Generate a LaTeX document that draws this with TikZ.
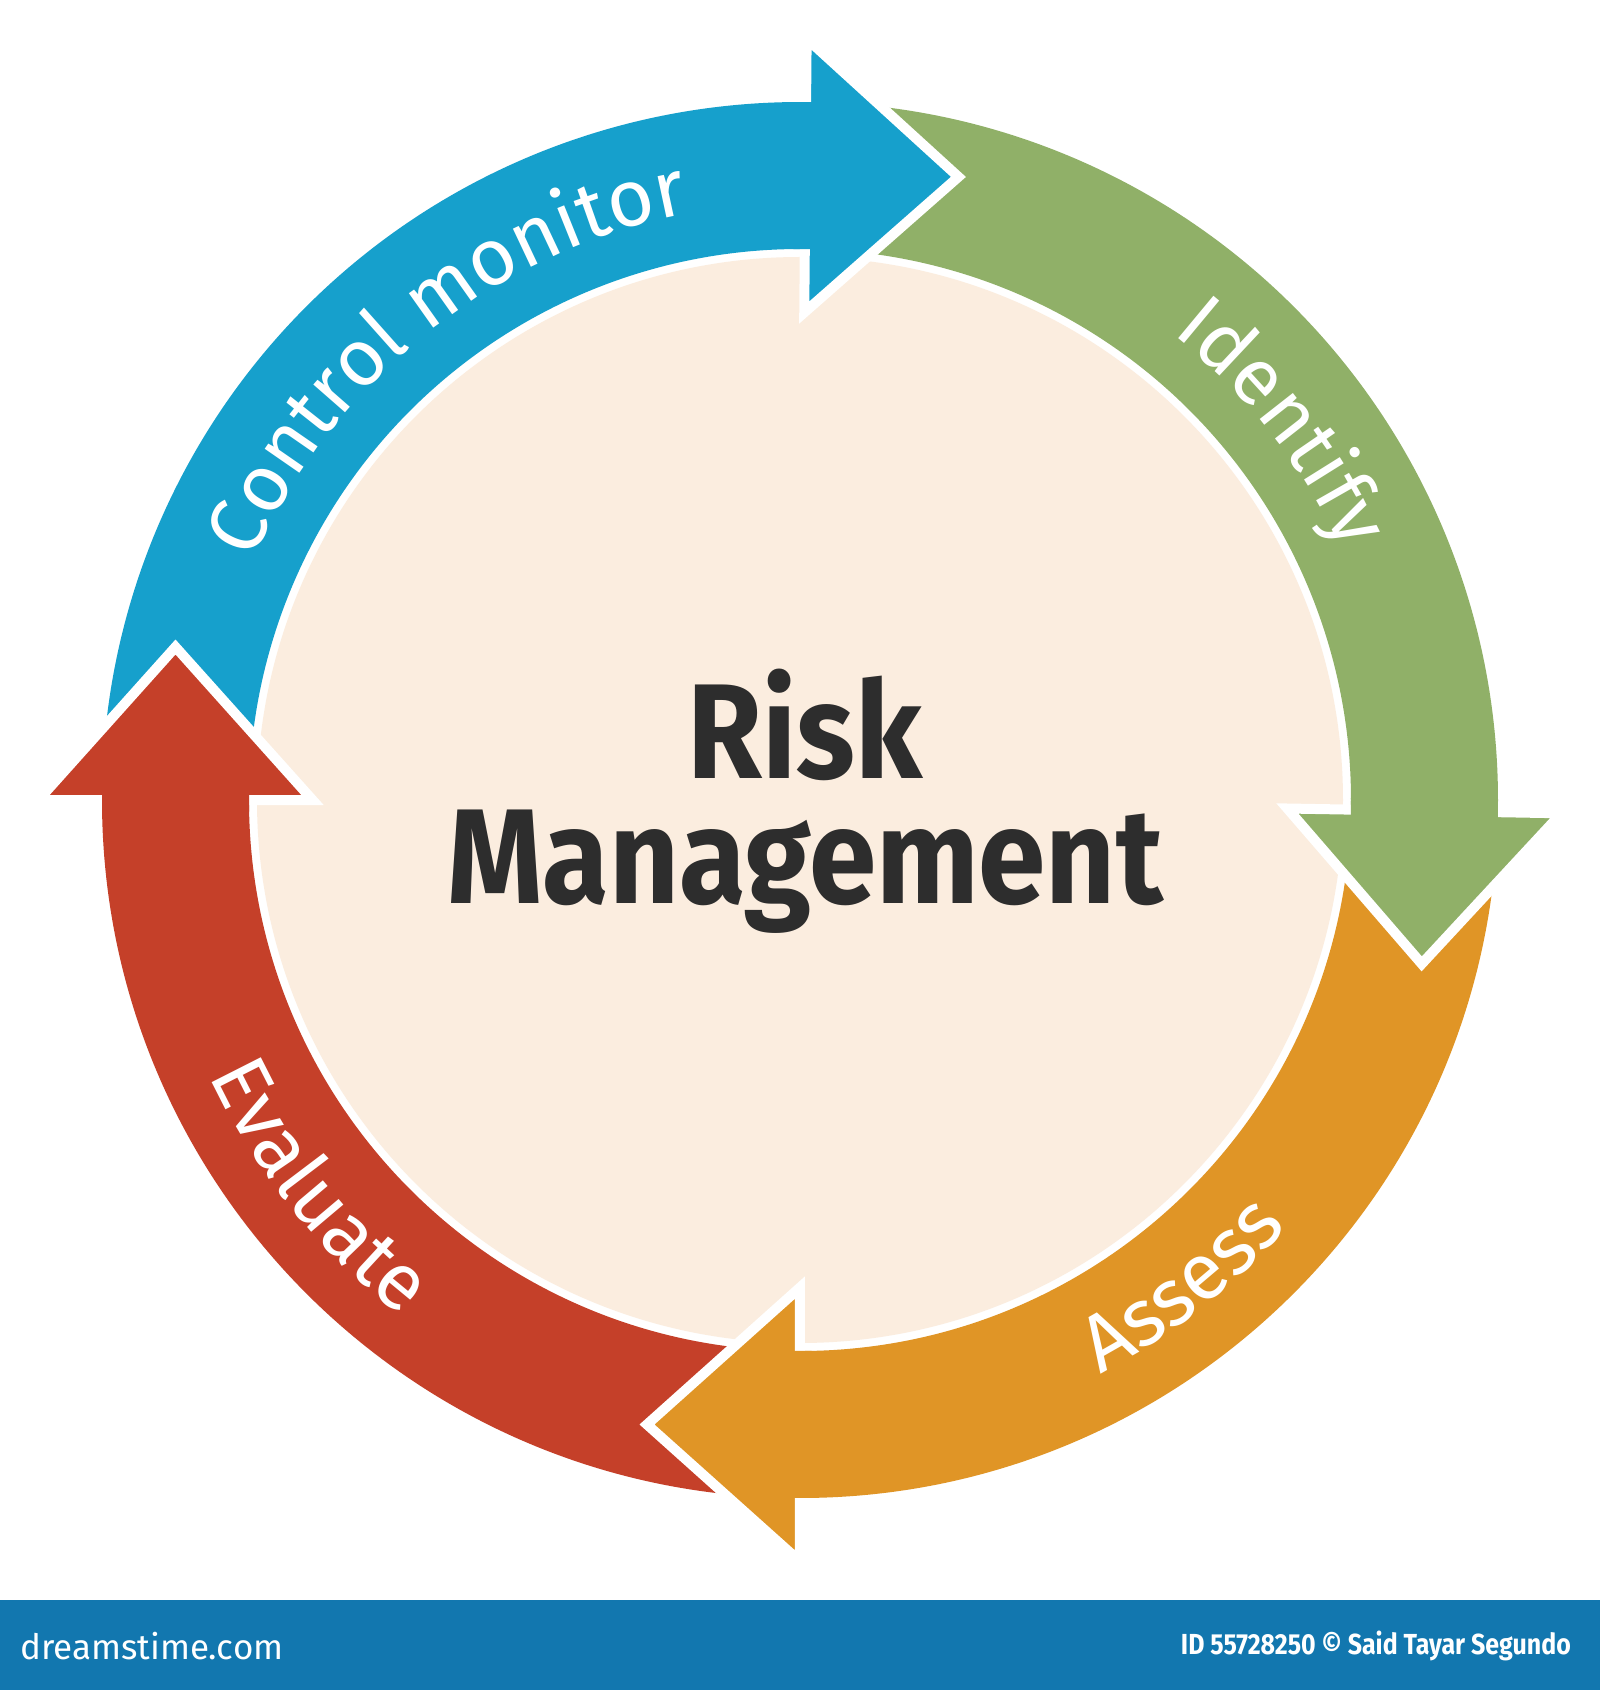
\documentclass[tikz,border=0pt]{standalone}
\usepackage{fontspec}
\setmainfont{Fira Sans}
\usetikzlibrary{decorations.text}
\definecolor{cblue}{RGB}{22,160,204}
\definecolor{cgreen}{RGB}{144,176,104}
\definecolor{corange}{RGB}{224,149,38}
\definecolor{cred}{RGB}{197,64,41}
\definecolor{cbeige}{RGB}{251,237,223}
\definecolor{cbanner}{RGB}{18,119,175}
\definecolor{ctitle}{RGB}{45,45,45}
\newcommand\lblfont{\fontsize{80}{96}\selectfont}
% annular sector of the ring between two angles
\newcommand\ringpart[3]{\fill[#1] (#2:698) arc[start angle=#2, end angle=#3, radius=698] -- (#3:551) arc[start angle=#3, end angle=#2, radius=551] -- cycle;}
% arrow head, canonical at the top pointing right, rotated by #2
\newcommand\arrowhead[2]{\filldraw[fill=#1, draw=white, line width=10pt, line join=miter, rotate=#2] (0,761.5) -- (153,624.5) -- (0,487.5) -- cycle;}
\tikzset{
  ringlabel/.style={decorate, decoration={text along path, text align=center, text color=white, text={|\lblfont|#1}}},
  titletext/.style={font=\fontsize{135}{135}\selectfont\bfseries, text=ctitle, anchor=base, inner sep=0pt},
  bannertext/.style={text=white, inner sep=0pt}
}
\begin{document}
\begin{tikzpicture}[x=1pt,y=1pt]
\useasboundingbox (-800,-890) rectangle (800,800);
\fill[white] (-800,-890) rectangle (800,800);
% banner
\fill[cbanner] (-800,-800) rectangle (800,-890);
\node[bannertext, anchor=west, font=\fontsize{35}{35}\selectfont] (brand) at (-780,-846) {dreamstime.com};
\node[bannertext, anchor=east, font=\fontsize{29}{29}\selectfont\bfseries] (credit) at (771,-846) {\scalebox{0.86}[1]{ID 55728250 © Said Tayar Segundo}};
% core circle
\node[circle, fill=cbeige, minimum size=1086pt, inner sep=0pt] (core) at (0,0) {};
% shafts
\ringpart{cblue}{180}{89.5}
\ringpart{cgreen}{89.5}{-1}
\ringpart{corange}{-1}{-90}
\ringpart{cred}{-90}{-180}
% heads
\arrowhead{cblue}{-0.5}
\arrowhead{cgreen}{-91}
\arrowhead{corange}{-180}
\arrowhead{cred}{90}
% patches over the white base lines
\ringpart{cblue}{90.7}{88.3}
\ringpart{cgreen}{0.2}{-2.2}
\ringpart{corange}{-88.8}{-91.2}
\ringpart{cred}{-178.8}{-181.2}
% labels
\path[ringlabel={Control monitor}] (168.5:597) arc[start angle=168.5, end angle=88.5, radius=597];
\path[ringlabel={Identify}] (70:597) arc[start angle=70, end angle=6, radius=597];
\path[ringlabel={Assess}] (-80:648) arc[start angle=-80, end angle=-23.6, radius=648];
\path[ringlabel={Evaluate}] (190:652) arc[start angle=190, end angle=247.4, radius=652];
% title
\node[titletext] (risk) at (5,22) {\scalebox{0.9}[1]{Risk}};
\node[titletext] (mgmt) at (5,-103) {\scalebox{0.9}[1]{Management}};
\end{tikzpicture}
\end{document}
